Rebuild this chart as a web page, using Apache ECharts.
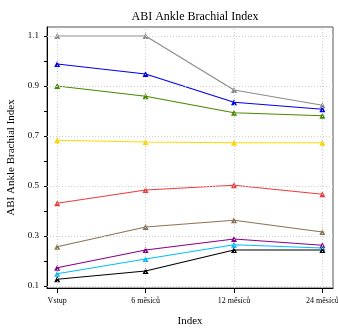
<!DOCTYPE html>
<html>
<head>
<meta charset="utf-8">
<script src="https://cdn.jsdelivr.net/npm/echarts@6/dist/echarts.min.js"></script>
<style>html,body{margin:0;padding:0;background:#fff}#c{width:338px;height:331px}</style>
</head>
<body>
<div id="c"></div>
<script>
const categories = ['Vstup', '6 měsíců', '12 měsíců', '24 měsíců'];
const xPositions = [0, 1, 2, 3];
const yTickLabels = [0.1, 0.3, 0.5, 0.7, 0.9, 1.1];
const yMinorTicks = [0.1, 0.2, 0.3, 0.4, 0.5, 0.6, 0.7, 0.8, 0.9, 1.0, 1.1];
const grayVals = [1.1, 1.1, 0.884, 0.823];
const blueVals = [0.988, 0.948, 0.835, 0.807];
const greenVals = [0.900, 0.859, 0.793, 0.781];
const yellowVals = [0.683, 0.676, 0.673, 0.673];
const redVals = [0.431, 0.484, 0.503, 0.467];
const brownVals = [0.257, 0.336, 0.363, 0.316];
const purpleVals = [0.173, 0.244, 0.288, 0.263];
const cyanVals = [0.149, 0.208, 0.265, 0.252];
const blackVals = [0.127, 0.160, 0.244, 0.244];

const seriesDefs = [
  ['gray', grayVals, '#8c8c8c'],
  ['blue', blueVals, '#0000ee'],
  ['green', greenVals, '#458b00'],
  ['yellow', yellowVals, '#ffd700'],
  ['red', redVals, '#ee3b3b'],
  ['brown', brownVals, '#8b7355'],
  ['purple', purpleVals, '#8b008b'],
  ['cyan', cyanVals, '#00bfff'],
  ['black', blackVals, '#000000']
];

const font = 'Liberation Serif';
const gridLineStyle = {color: '#cfcfcf', type: [1, 2], width: 1};
const chart = echarts.init(document.getElementById('c'), null, {renderer: 'canvas'});

const gridSeries = {
  name: 'grid', type: 'line', data: [], silent: true, z: 1,
  markLine: {
    silent: true, symbol: 'none', animation: false,
    label: {show: false},
    lineStyle: gridLineStyle,
    data: xPositions.map(v => ({xAxis: v})).concat(yTickLabels.map(v => ({yAxis: v})))
  }
};

chart.setOption({
  animation: false,
  backgroundColor: '#fff',
  title: {
    text: 'ABI Ankle Brachial Index',
    left: 190, top: 6, textAlign: 'center',
    textStyle: {fontFamily: font, fontSize: 12, fontWeight: 'normal', color: '#000'}
  },
  grid: {left: 47, right: 5, top: 27, bottom: 43, containLabel: false, outerBoundsMode: 'none', show: true, borderColor: '#555', borderWidth: 1, backgroundColor: 'transparent'},
  xAxis: {
    type: 'value', min: -0.115, max: 3.12,
    name: 'Index', nameLocation: 'middle', nameGap: 28,
    nameTextStyle: {fontFamily: font, fontSize: 11, color: '#000'},
    axisLine: {show: true, onZero: false, lineStyle: {color: '#000', width: 1}},
    axisTick: {show: true, customValues: xPositions, length: 5, lineStyle: {color: '#000'}},
    axisLabel: {customValues: xPositions, hideOverlap: false, formatter: v => categories[Math.round(v)] || '', fontFamily: font, fontSize: 8, color: '#000', margin: 9},
    splitLine: {show: false}
  },
  yAxis: [{
    type: 'value', min: 0.092, max: 1.136,
    name: 'ABI Ankle Brachial Index', nameLocation: 'middle', nameGap: 27,
    nameTextStyle: {fontFamily: font, fontSize: 11, color: '#000'},
    axisLine: {show: true, onZero: false, lineStyle: {color: '#000', width: 1}},
    axisTick: {show: true, customValues: yMinorTicks, length: 3, lineStyle: {color: '#000'}},
    axisLabel: {customValues: yTickLabels, formatter: v => String(Math.round(v * 10) / 10), fontFamily: font, fontSize: 9, color: '#000', margin: 8},
    splitLine: {show: false}
  }],
  series: [gridSeries].concat(seriesDefs.map(([name, vals, color]) => ({
    name, type: 'line', z: 3,
    data: vals.map((v, i) => [xPositions[i], v]),
    symbol: 'triangle', symbolSize: 6, showSymbol: true,
    itemStyle: {color},
    lineStyle: {color, width: 1.2}
  })))
});
</script>
</body>
</html>
